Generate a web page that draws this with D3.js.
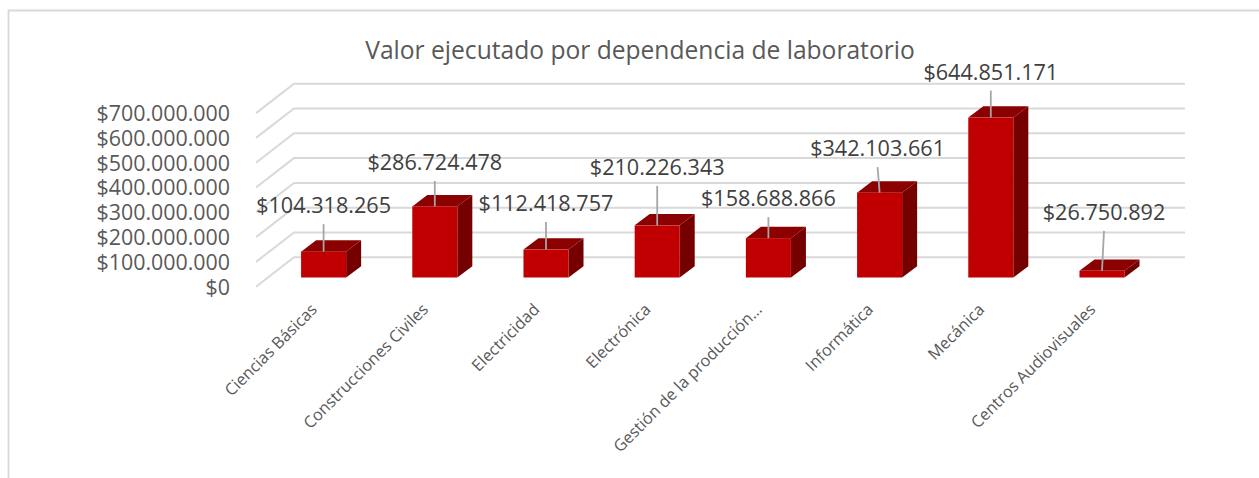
<!DOCTYPE html>
<html><head><meta charset="utf-8">
<script src="https://cdn.jsdelivr.net/npm/d3@7"></script>
<style>
html,body{margin:0;padding:0;background:#fff;overflow:hidden}
text{font-family:"Open Sans",sans-serif}
</style></head><body>
<svg id="c" width="1259" height="478"></svg>
<script>
const chartTitle = "Valor ejecutado por dependencia de laboratorio";
const categories = ["Ciencias Básicas","Construcciones Civiles","Electricidad","Electrónica","Gestión de la producción…","Informática","Mecánica","Centros Audiovisuales"];
const values = [104318265,286724478,112418757,210226343,158688866,342103661,644851171,26750892];
const tickValues = [0,100000000,200000000,300000000,400000000,500000000,600000000,700000000];
// manual label placement of the original chart: leader length and lean per bar
const leaderLift = [27.5,25.5,27.5,39.5,21,25.5,27,40];
const leaderLean = [0,0,0,0,0,-2,0,2];

const W=1259,H=478;
const floorY=277.5, depthX=15, depthY=11.3;
const svg=d3.select("#c");
const fmt=d3.formatLocale({decimal:",",thousands:".",grouping:[3],currency:["$",""]}).format("$,.0f");

const x=d3.scaleBand().domain(categories).range([268,1157.6]).paddingInner(0.595).paddingOuter(0.2975);
const y=d3.scaleLinear().domain([0,700000000]).range([floorY,floorY-173.6]);

// chart frame
svg.append("path").attr("d",`M1259,10.5H8.5V478`).attr("fill","none").attr("stroke","#d9d9d9").attr("stroke-width",1.8);

// walls / gridlines
const backDY=-20.2, frontDY=9.2, backX=294, frontX=256, rightX=1185;
svg.append("g").selectAll("path").data(tickValues).join("path")
  .attr("d",d=>`M${frontX},${y(d)+frontDY}L${backX},${y(d)+backDY}H${rightX}`)
  .attr("fill","none").attr("stroke","#d9d9d9").attr("stroke-width",2);

// y axis
const yAxis=svg.append("g").attr("transform",`translate(230,${frontDY+0.5})`)
  .call(d3.axisLeft(y).tickValues(tickValues).tickFormat(fmt).tickSize(0).tickPadding(0));
yAxis.select(".domain").remove();
yAxis.selectAll("text").attr("font-size",21.4).attr("fill","#595959").style("font-family",'"Open Sans",sans-serif');

// bars
const bars=svg.append("g").selectAll("g").data(categories.map((c,i)=>({c,v:values[i],i}))).join("g");
const bw=x.bandwidth();
bars.append("path").attr("fill","#750000")
  .attr("d",d=>{const a=x(d.c)+bw,t=y(d.v);return `M${a},${floorY}L${a+depthX},${floorY-depthY}V${t-depthY}L${a},${t}Z`;});
bars.append("path").attr("fill","#8b0000")
  .attr("d",d=>{const a=x(d.c),t=y(d.v);return `M${a},${t}L${a+depthX},${t-depthY}H${a+bw+depthX}L${a+bw},${t}Z`;});
bars.append("rect").attr("fill","#c00000")
  .attr("x",d=>x(d.c)).attr("y",d=>y(d.v)).attr("width",bw).attr("height",d=>floorY-y(d.v));

// leaders
bars.append("line").attr("stroke","#a6a6a6").attr("stroke-width",1.8)
  .attr("x1",d=>x(d.c)+bw/2).attr("y1",d=>y(d.v))
  .attr("x2",d=>x(d.c)+bw/2+leaderLean[d.i]).attr("y2",d=>y(d.v)-leaderLift[d.i]);
// data labels
bars.append("text").attr("text-anchor","middle").attr("font-size",21.6).attr("fill","#404040").attr("dominant-baseline","central")
  .attr("x",d=>x(d.c)+bw/2+leaderLean[d.i])
  .attr("y",d=>y(d.v)-leaderLift[d.i]-19.5).text(d=>fmt(d.v));

// category labels
svg.append("g").selectAll("text").data(categories).join("text")
  .attr("text-anchor","end").attr("font-size",16.3).attr("fill","#595959")
  .attr("transform",d=>`translate(${x(d)+bw/2-5.5},${floorY+33}) rotate(-45)`).text(d=>d);

// title
svg.append("text").attr("x",640).attr("y",59).attr("text-anchor","middle").attr("font-size",24.6).attr("fill","#595959").text(chartTitle);
</script>
</body></html>
